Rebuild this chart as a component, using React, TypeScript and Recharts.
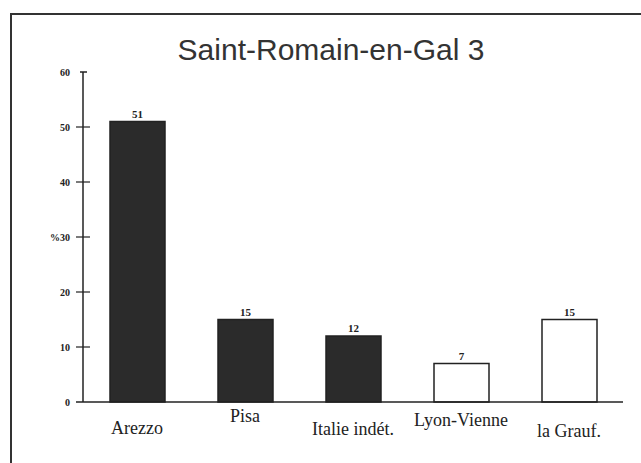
import { BarChart, Bar, XAxis, YAxis, Cell, LabelList } from "recharts";

const categories = ["Arezzo", "Pisa", "Italie indét.", "Lyon-Vienne", "la Grauf."];
const percentages = [51, 15, 12, 7, 15];
const filled = [true, true, true, false, false];
const yTicks = [0, 10, 20, 30, 40, 50, 60];
const yTickLabels = ["0", "10", "20", "%30", "40", "50", "60"];

const data = categories.map((name, i) => ({ name, value: percentages[i], filled: filled[i] }));

const serif = "'Liberation Serif', 'DejaVu Serif', serif";

function YTick({ x, y, payload }: any) {
  const idx = yTicks.indexOf(payload.value);
  const v = payload.value;
  return (
    <g>
      {v === 0 ? (
        <line x1={x + 1} x2={x + 8} y1={y} y2={y} stroke="#222" strokeWidth={1.5} />
      ) : v === 60 ? (
        <line x1={x + 5} x2={x + 12} y1={y} y2={y} stroke="#222" strokeWidth={1.5} />
      ) : (
        <line x1={x + 1} x2={x + 15} y1={y} y2={y} stroke="#222" strokeWidth={1.2} />
      )}
      <text x={x - 5} y={y + 3.5} textAnchor="end" fontFamily={serif} fontWeight="bold" fontSize={10} fill="#222">
        {yTickLabels[idx]}
      </text>
    </g>
  );
}

function XTick({ x, y, payload, index }: any) {
  // the labels sit at uneven heights in the original
  const dy = [24, 12, 25, 16, 27][index] ?? 20;
  return (
    <text x={x} y={y + dy} textAnchor="middle" fontFamily={serif} fontSize={18} fill="#222">
      {payload.value}
    </text>
  );
}

export default function App() {
  return (
    <div style={{ position: "absolute", left: 0, top: 0, width: 641, height: 463, background: "#fff" }}>
      <div
        style={{
          position: "absolute",
          left: 10,
          top: 13,
          width: 631,
          height: 450,
          borderTop: "2px solid #333",
          borderLeft: "2px solid #333",
        }}
      />
      <div
        style={{
          position: "absolute",
          left: 0,
          width: 662,
          top: 33,
          textAlign: "center",
          fontFamily: "'Liberation Sans', Arial, sans-serif",
          fontSize: 30,
          color: "#333",
        }}
      >
        Saint-Romain-en-Gal 3
      </div>
      <div style={{ position: "absolute", left: 0, top: 0 }}>
        <BarChart
          width={641}
          height={463}
          data={data}
          margin={{ top: 72, right: 18, bottom: 0, left: 23 }}
          barSize={55}
        >
          <XAxis
            dataKey="name"
            height={61}
            tickLine={false}
            axisLine={{ stroke: "#222", strokeWidth: 1.5 }}
            tick={<XTick />}
            interval={0}
          />
          <YAxis
            width={60}
            domain={[0, 60]}
            ticks={yTicks}
            tickLine={false}
            axisLine={{ stroke: "#222", strokeWidth: 1.5 }}
            tick={<YTick />}
            interval={0}
          />
          <Bar dataKey="value" isAnimationActive={false} stroke="#222" strokeWidth={1.5}>
            {data.map((d, i) => (
              <Cell key={`c-${i}`} fill={d.filled ? "#2b2b2b" : "#fff"} />
            ))}
            <LabelList dataKey="value" position="top" offset={4} fontFamily={serif} fontWeight="bold" fontSize={11} fill="#222" />
          </Bar>
        </BarChart>
      </div>
    </div>
  );
}
